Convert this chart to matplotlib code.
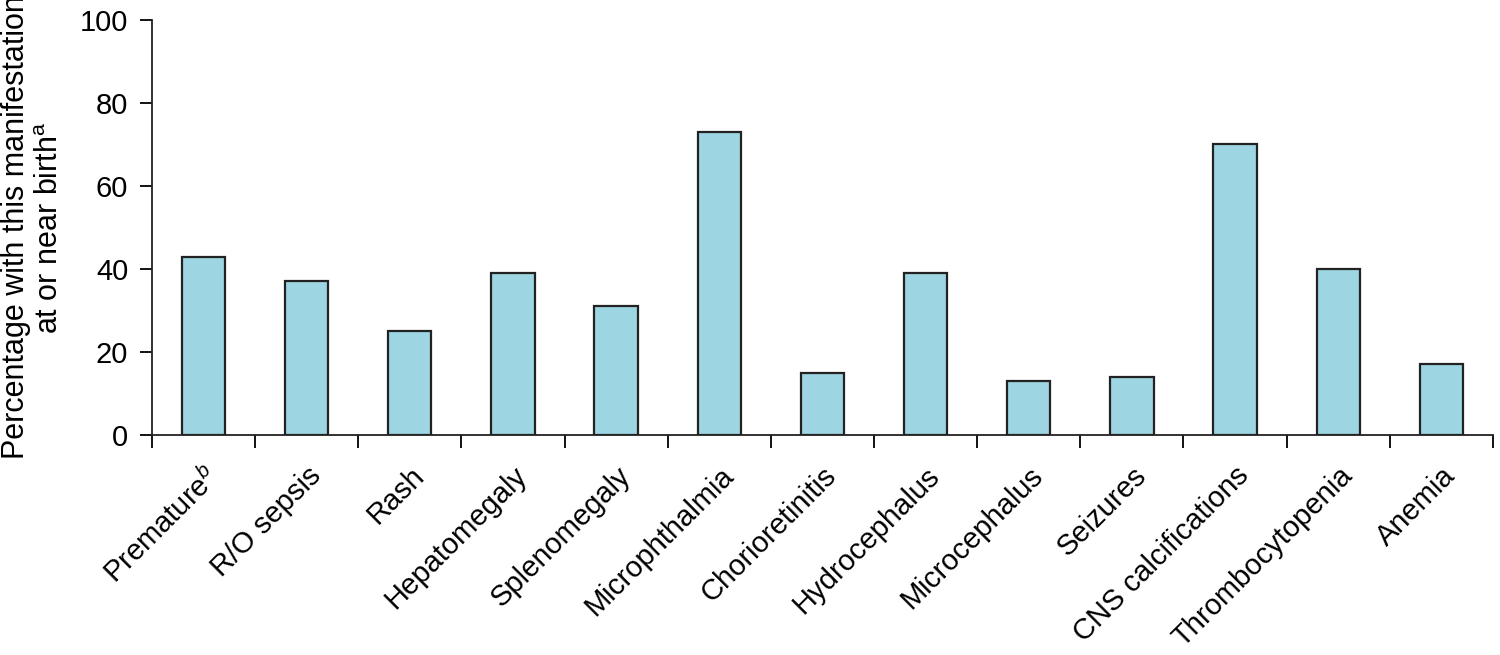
import matplotlib
matplotlib.use("Agg")
import matplotlib.pyplot as plt
import numpy as np

plt.rcParams['font.family'] = ['Liberation Sans', 'DejaVu Sans']
plt.rcParams['mathtext.fontset'] = 'custom'
plt.rcParams['mathtext.rm'] = 'Liberation Sans'
plt.rcParams['mathtext.it'] = 'Liberation Sans:italic'

categories = ['Premature$^{\\mathit{b}}$', 'R/O sepsis', 'Rash', 'Hepatomegaly',
              'Splenomegaly', 'Microphthalmia', 'Chorioretinitis', 'Hydrocephalus',
              'Microcephalus', 'Seizures', 'CNS calcifications', 'Thrombocytopenia',
              'Anemia']
values = [43, 37, 25, 39, 31, 73, 15, 39, 13, 14, 70, 40, 17]
yticks = [0, 20, 40, 60, 80, 100]

fig = plt.figure(figsize=(15, 6.55), dpi=100)
ax = fig.add_axes([0.1013, 0.3359, 0.8940, 0.6336])

x = np.arange(len(categories)) + 0.5
ax.bar(x, values, width=0.42, color='#9dd5e3', edgecolor='#222222', linewidth=1.6)

ax.set_xlim(0, len(categories))
ax.set_ylim(0, 100)
ax.set_yticks(yticks)
ax.set_yticklabels([str(v) for v in yticks], fontsize=21)

# category boundaries get the tick marks, labels sit under the bars
ax.set_xticks(np.arange(len(categories) + 1))
ax.set_xticklabels([])
ax.set_xticks(x, minor=True)
ax.set_xticklabels(categories, minor=True, rotation=45, ha='right',
                   rotation_mode='anchor', fontsize=21)
ax.tick_params(axis='x', which='minor', length=0, pad=19)
ax.tick_params(axis='x', which='major', length=9, width=1.3, direction='out')
ax.tick_params(axis='y', length=9, width=1.3, direction='out', pad=8)

for s in ['top', 'right']:
    ax.spines[s].set_visible(False)
for s in ['left', 'bottom']:
    ax.spines[s].set_linewidth(1.3)
    ax.spines[s].set_color('#222222')

ax.set_ylabel('Percentage with this manifestation\nat or near birth$^{\\mathrm{a}}$',
              fontsize=22, linespacing=1.15, labelpad=11)

fig.savefig('out.png', dpi=100)
